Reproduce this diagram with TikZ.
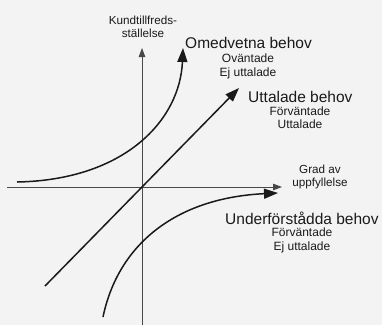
\documentclass[tikz,border=0pt]{standalone}
\usepackage{fontspec}
\setmainfont{Liberation Sans}
\usetikzlibrary{arrows.meta}
\definecolor{paper}{HTML}{F3F3F3}
\definecolor{ink}{HTML}{1A1A1A}
\tikzset{
  axis/.style={draw=ink!80,line width=0.9pt,-{Triangle[length=9pt,width=6.5pt]}},
  need/.style={draw=ink,line width=1.5pt,-{Triangle[length=14pt,width=10pt]}},
  bigtxt/.style={font=\fontsize{15.5}{17}\selectfont,text=ink,inner sep=0pt},
  smalltxt/.style={font=\fontsize{12}{13.5}\selectfont,text=ink,align=center,inner sep=0pt},
  axtxt/.style={font=\fontsize{11.7}{13}\selectfont,text=ink,align=center,inner sep=0pt}
}
\begin{document}
\begin{tikzpicture}[x=1pt,y=-1pt]
% Background (fixes the page size)
\fill[paper] (0,0) rectangle (382,325);
\useasboundingbox (0,0) rectangle (382,325);

% Points
\coordinate (o) at (142,187);
\coordinate (xstart) at (7,187);
\coordinate (xend) at (282,187);
\coordinate (ystart) at (142,325);
\coordinate (yend) at (142,48);
\coordinate (linstart) at (45,286);
\coordinate (linend) at (239,88);
\coordinate (excstart) at (17,182);
\coordinate (excend) at (183,48);
\coordinate (basstart) at (103,317);
\coordinate (basend) at (278,193);

% Axes
\draw[axis] (xstart) -- (xend);
\draw[axis] (ystart) -- (yend);
\node[axtxt] (ylab) at (143,26.5) {Kundtillfreds-\\ställelse};
\node[axtxt] (xlab) at (320,176.5) {Grad av\\uppfyllelse};

% Uttalade behov (straight line)
\draw[need] (linstart) -- (linend);
\node[bigtxt,anchor=west] (lin) at (248,97) {Uttalade behov};
\node[smalltxt] (linsub) at (300,117.5) {Förväntade\\Uttalade};

% Omedvetna behov
\draw[need] (excstart) .. controls (125,180) and (180,120) .. (excend);
\node[bigtxt,anchor=west] (exc) at (185,43) {Omedvetna behov};
\node[smalltxt] (excsub) at (248,66.5) {Oväntade\\Ej uttalade};

% Underförstådda behov
\draw[need] (basstart) .. controls (118,245) and (175,198) .. (basend);
\node[bigtxt,anchor=west] (bas) at (225,218) {Underförstådda behov};
\node[smalltxt] (bassub) at (302,240.5) {Förväntade\\Ej uttalade};
\end{tikzpicture}
\end{document}
